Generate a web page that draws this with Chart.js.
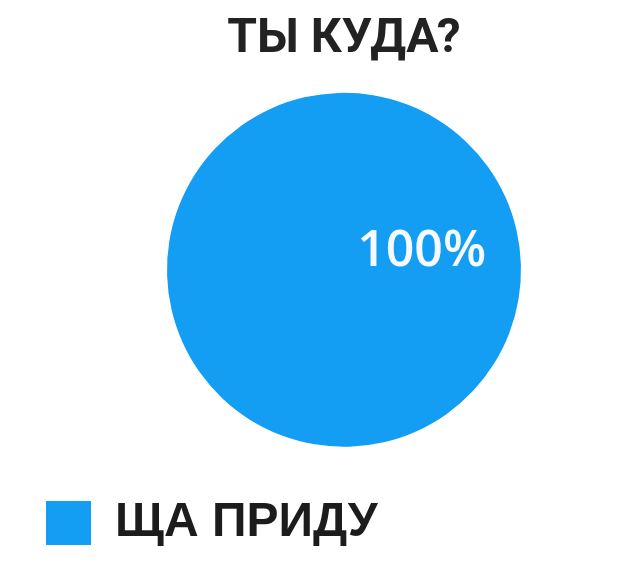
<!doctype html>
<html>

<head>
	<meta charset="utf-8">
	<title>ТЫ КУДА?</title>
	<script src="https://cdn.jsdelivr.net/npm/chart.js@4.4.1/dist/chart.umd.min.js"></script>
	<style>
	html, body {
		margin: 0;
		padding: 0;
		background: #fff;
		overflow: hidden;
	}
	.chart-container {
		width: 670px;
		height: 580px;
	}
	</style>
</head>

<body>
	<div class="chart-container">
		<canvas id="chart"></canvas>
	</div>
	<script>
		var titleText = 'ТЫ КУДА?';
		var categories = ['ЩА ПРИДУ'];
		var values = [100];
		var sliceColors = ['#139ef3'];

		// draws the percent label inside each slice, placed from the arc geometry
		var sliceLabels = {
			id: 'sliceLabels',
			afterDatasetsDraw: function(chart) {
				var ctx = chart.ctx;
				var meta = chart.getDatasetMeta(0);
				var total = values.reduce(function(a, b) { return a + b; }, 0);
				meta.data.forEach(function(arc, i) {
					var p = arc.getProps(['x', 'y', 'startAngle', 'endAngle', 'outerRadius'], true);
					var mid = (p.startAngle + p.endAngle) / 2;
					var r = p.outerRadius * 0.45;
					var x = p.x + Math.cos(mid) * r;
					var y = p.y + Math.sin(mid) * r;
					ctx.save();
					ctx.fillStyle = '#f4faff';
					ctx.font = '600 50px "Open Sans"';
					ctx.textAlign = 'center';
					ctx.textBaseline = 'middle';
					ctx.fillText(Math.round(values[i] / total * 100) + '%', x, y);
					ctx.restore();
				});
			}
		};

		window.onload = function() {
			var ctx = document.getElementById('chart').getContext('2d');
			new Chart(ctx, {
				type: 'pie',
				data: {
					labels: categories,
					datasets: [{
						data: values,
						backgroundColor: sliceColors,
						borderWidth: 0,
						radius: 177
					}]
				},
				options: {
					responsive: true,
					maintainAspectRatio: false,
					animation: false,
					rotation: -103,
					events: [],
					layout: {
						padding: { left: 18, right: 0, top: 0, bottom: 23 }
					},
					plugins: {
						tooltip: { enabled: false },
						title: {
							display: true,
							text: titleText,
							color: '#222',
							font: { family: 'Roboto', size: 48, weight: 'bold', lineHeight: 1.2 },
							padding: { top: 11, bottom: 0 }
						},
						legend: {
							display: true,
							position: 'bottom',
							align: 'start',
							labels: {
								boxWidth: 45,
								boxHeight: 44,
								padding: 28,
								color: '#1c1c1c',
								font: { family: '"Liberation Sans"', size: 48, weight: 'bold' }
							}
						}
					}
				},
				plugins: [sliceLabels]
			});
		};
	</script>
</body>

</html>
